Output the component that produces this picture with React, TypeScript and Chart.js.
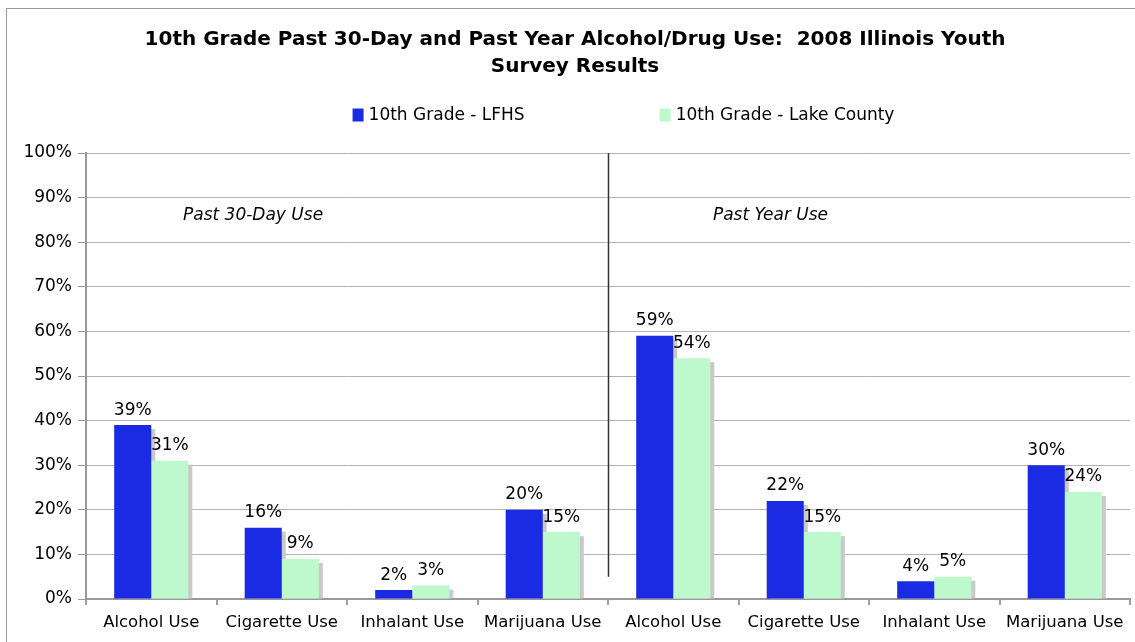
import React, { useEffect, useRef } from "react";
import { Chart, registerables } from "chart.js";

Chart.register(...registerables);

const titleLines = [
  "10th Grade Past 30-Day and Past Year Alcohol/Drug Use:  2008 Illinois Youth",
  "Survey Results",
];
const categories = [
  "Alcohol Use",
  "Cigarette Use",
  "Inhalant Use",
  "Marijuana Use",
  "Alcohol Use",
  "Cigarette Use",
  "Inhalant Use",
  "Marijuana Use",
];
const seriesNames = ["10th Grade - LFHS", "10th Grade - Lake County"];
const lfhsValues = [39, 16, 2, 20, 59, 22, 4, 30];
const lakeCountyValues = [31, 9, 3, 15, 54, 15, 5, 24];
const seriesColors = ["#1b2be3", "#bdf9cc"];
const yTickValues = [0, 10, 20, 30, 40, 50, 60, 70, 80, 90, 100];
const sectionLabels = ["Past 30-Day Use", "Past Year Use"];
const sectionLabelPos = [0.78, 4.745];
const sectionLabelValue = [86, 86];
const dividerAt = 3.5;
const dividerRange = [5, 100];

const FONT = "'DejaVu Sans', Verdana, sans-serif";

const framePlugin = {
  id: "frame",
  beforeDraw(chart: any) {
    const { ctx } = chart;
    ctx.save();
    ctx.fillStyle = "#ffffff";
    ctx.fillRect(0, 0, chart.width, chart.height);
    ctx.strokeStyle = "#9a9a9a";
    ctx.lineWidth = 1;
    ctx.strokeRect(6.5, 8.5, chart.width + 20, chart.height + 20);
    ctx.restore();
  },
};

const shadowPlugin = {
  id: "barShadow",
  beforeDatasetsDraw(chart: any) {
    const { ctx } = chart;
    ctx.save();
    ctx.fillStyle = "#c9c9c9";
    chart.data.datasets.forEach((_: any, di: number) => {
      const meta = chart.getDatasetMeta(di);
      meta.data.forEach((el: any) => {
        const w = el.width;
        const left = el.x - w / 2 + 4;
        const top = el.y + 4;
        const h = el.base - top;
        if (h > 0) ctx.fillRect(left, top, w, h);
      });
    });
    ctx.restore();
  },
};

const labelPlugin = {
  id: "valueLabels",
  afterDatasetsDraw(chart: any) {
    const { ctx } = chart;
    ctx.save();
    ctx.fillStyle = "#000";
    ctx.font = `17px ${FONT}`;
    ctx.textAlign = "center";
    ctx.textBaseline = "alphabetic";
    chart.data.datasets.forEach((ds: any, di: number) => {
      const meta = chart.getDatasetMeta(di);
      meta.data.forEach((el: any, i: number) => {
        ctx.fillText(`${ds.data[i]}%`, el.x, el.y - 10.5);
      });
    });
    ctx.restore();
  },
};

const annotationPlugin = {
  id: "annotations",
  afterDraw(chart: any) {
    const { ctx } = chart;
    const xs = chart.scales.x;
    const ys = chart.scales.y;
    ctx.save();
    // divider
    const dx = Math.round(xs.getPixelForValue(dividerAt)) + 0.5;
    ctx.strokeStyle = "#333";
    ctx.lineWidth = 1.5;
    ctx.beginPath();
    ctx.moveTo(dx, ys.getPixelForValue(dividerRange[1]));
    ctx.lineTo(dx, ys.getPixelForValue(dividerRange[0]));
    ctx.stroke();
    // section labels
    ctx.fillStyle = "#000";
    ctx.font = `italic 17px ${FONT}`;
    ctx.textAlign = "center";
    ctx.textBaseline = "middle";
    sectionLabels.forEach((t, i) => {
      ctx.fillText(t, xs.getPixelForValue(sectionLabelPos[i]), ys.getPixelForValue(sectionLabelValue[i]));
    });
    // legend
    const legendY = 115;
    const legendCenter = 623.5;
    const boxW = 11;
    const boxH = 13;
    const boxGap = 5;
    const itemGap = 135;
    ctx.font = `17px ${FONT}`;
    ctx.textAlign = "left";
    const widths = seriesNames.map((n) => boxW + boxGap + ctx.measureText(n).width);
    const total = widths.reduce((a, b) => a + b, 0) + itemGap * (widths.length - 1);
    let x = legendCenter - total / 2;
    seriesNames.forEach((n, i) => {
      ctx.fillStyle = seriesColors[i];
      ctx.fillRect(x, legendY - boxH / 2, boxW, boxH);
      ctx.fillStyle = "#000";
      ctx.fillText(n, x + boxW + boxGap, legendY + 1);
      x += widths[i] + itemGap;
    });
    ctx.restore();
  },
};

export default function App() {
  const canvasRef = useRef<HTMLCanvasElement | null>(null);

  useEffect(() => {
    if (!canvasRef.current) return;
    const chart = new Chart(canvasRef.current, {
      type: "bar",
      data: {
        labels: categories,
        datasets: [
          {
            label: seriesNames[0],
            data: lfhsValues,
            backgroundColor: seriesColors[0],
            categoryPercentage: 0.568,
            barPercentage: 1,
          },
          {
            label: seriesNames[1],
            data: lakeCountyValues,
            backgroundColor: seriesColors[1],
            categoryPercentage: 0.568,
            barPercentage: 1,
          },
        ],
      },
      options: {
        animation: false,
        responsive: false,
        maintainAspectRatio: false,
        layout: { padding: { left: 20, right: 5, top: 0, bottom: 0 } },
        plugins: {
          legend: { display: false },
          tooltip: { enabled: false },
          title: {
            display: true,
            text: titleLines,
            color: "#000",
            font: { family: FONT, size: 20, weight: "bold", lineHeight: 1.35 },
            padding: { top: 26.5, bottom: 72.5 },
          },
        },
        scales: {
          x: {
            grid: {
              offset: true,
              drawOnChartArea: true,
              color: (c: any) => (c.index === categories.length ? "#a0a0a0" : "rgba(0,0,0,0)"),
              lineWidth: 2,
              tickColor: "#a0a0a0",
              tickLength: 6,
            },
            border: { color: "#999", width: 2 },
            ticks: {
              color: "#000",
              font: { family: FONT, size: 16.5 },
              padding: 8,
              maxRotation: 0,
              autoSkip: false,
            },
            afterFit: (s: any) => {
              s.height = 43;
            },
          },
          y: {
            min: 0,
            max: 100,
            afterBuildTicks: (s: any) => {
              s.ticks = yTickValues.map((v) => ({ value: v }));
            },
            ticks: {
              color: "#000",
              font: { family: FONT, size: 17 },
              padding: 6,
              callback: (v: any) => `${v}%`,
            },
            grid: { color: "#b4b4b4", tickColor: "#999", tickLength: 8, lineWidth: 1 },
            border: { color: "#999", width: 2 },
            afterFit: (s: any) => {
              s.width = 66;
            },
          },
        },
      },
      plugins: [framePlugin, shadowPlugin, labelPlugin, annotationPlugin],
    });
    return () => chart.destroy();
  }, []);

  return (
    <div style={{ position: "fixed", left: 0, top: 0, width: 1135, height: 642, background: "#fff" }}>
      <canvas ref={canvasRef} width={1135} height={642} style={{ display: "block" }} />
    </div>
  );
}
